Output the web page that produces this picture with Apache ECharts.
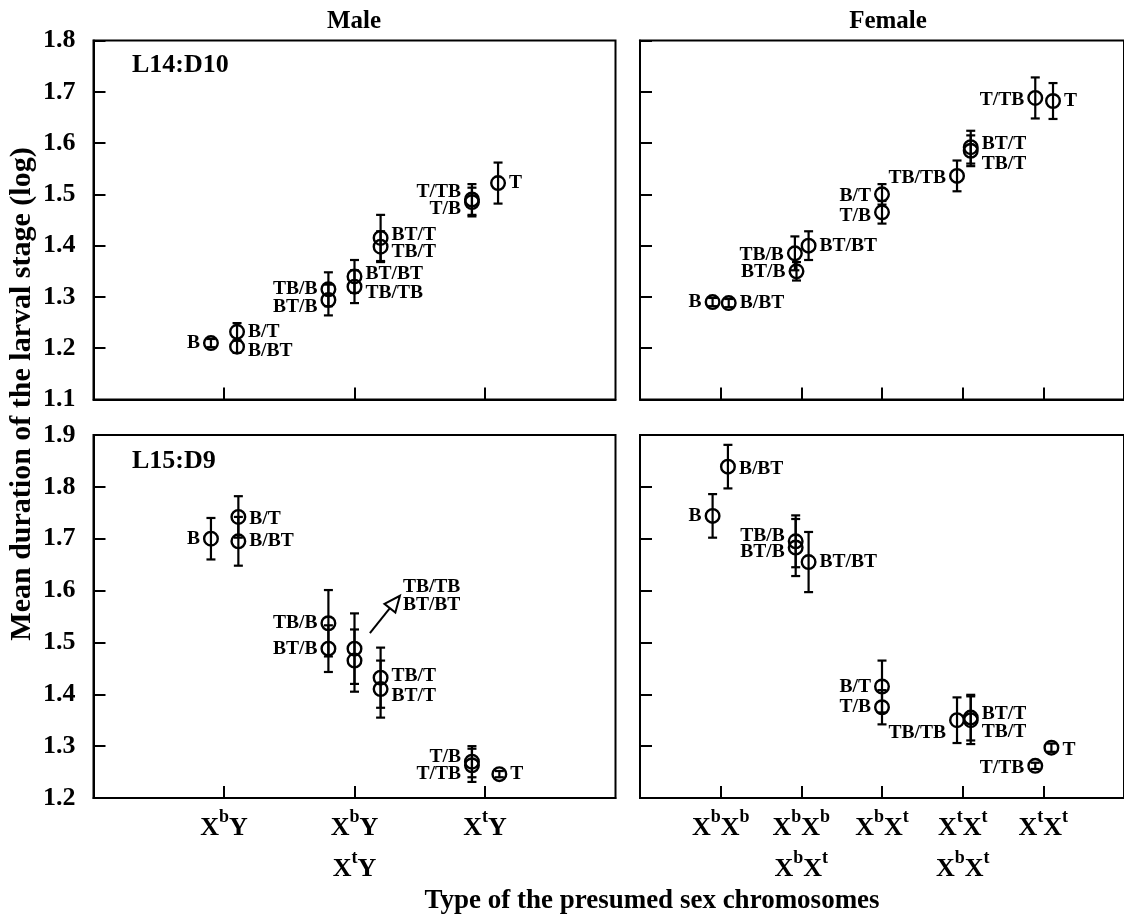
<!DOCTYPE html>
<html>
<head>
<meta charset="utf-8">
<script src="https://cdn.jsdelivr.net/npm/echarts@6/dist/echarts.min.js"></script>
<style>
  html, body { margin: 0; padding: 0; background: #fff; }
  #chart { width: 1124px; height: 918px; }
</style>
</head>
<body>
<div id="chart"></div>
<script>
// ---- Tick labels (presumed sex chromosome types; ^ marks a superscript) ----
const maleTypes = ['X^bY', 'X^bY\nX^tY', 'X^tY'];
const femaleTypes = ['X^bX^b', 'X^bX^b\nX^bX^t', 'X^bX^t', 'X^tX^t\nX^bX^t', 'X^tX^t'];

// ---- L14:D10, males ----
const l14MaleNames = ['B', 'B/T', 'B/BT', 'TB/B', 'BT/B', 'BT/BT', 'TB/TB', 'BT/T', 'TB/T', 'T/TB', 'T/B', 'T'];
const l14MaleType  = [1, 1, 1, 2, 2, 2, 2, 2, 2, 3, 3, 3];
const l14MaleMean  = [1.210, 1.232, 1.203, 1.315, 1.294, 1.340, 1.320, 1.415, 1.398, 1.490, 1.485, 1.522];
const l14MaleErr   = [0.008, 0.017, 0.012, 0.033, 0.030, 0.032, 0.032, 0.045, 0.030, 0.030, 0.028, 0.040];

// ---- L14:D10, females ----
const l14FemaleNames = ['B', 'B/BT', 'TB/B', 'BT/B', 'BT/BT', 'B/T', 'T/B', 'TB/TB', 'BT/T', 'TB/T', 'T/TB', 'T'];
const l14FemaleType  = [1, 1, 2, 2, 2, 3, 3, 4, 4, 4, 5, 5];
const l14FemaleMean  = [1.290, 1.288, 1.385, 1.350, 1.400, 1.500, 1.465, 1.536, 1.592, 1.585, 1.688, 1.682];
const l14FemaleErr   = [0.008, 0.008, 0.033, 0.018, 0.028, 0.020, 0.022, 0.030, 0.032, 0.030, 0.040, 0.035];

// ---- L15:D9, males ----
const l15MaleNames = ['B', 'B/T', 'B/BT', 'TB/B', 'BT/B', 'TB/TB', 'BT/BT', 'TB/T', 'BT/T', 'T/B', 'T/TB', 'T'];
const l15MaleType  = [1, 1, 1, 2, 2, 2, 2, 2, 2, 3, 3, 3];
const l15MaleMean  = [1.700, 1.742, 1.695, 1.537, 1.488, 1.488, 1.465, 1.432, 1.410, 1.270, 1.263, 1.246];
const l15MaleErr   = [0.040, 0.040, 0.047, 0.064, 0.045, 0.068, 0.060, 0.058, 0.055, 0.030, 0.032, 0.006];

// ---- L15:D9, females ----
const l15FemaleNames = ['B', 'B/BT', 'TB/B', 'BT/B', 'BT/BT', 'B/T', 'T/B', 'TB/TB', 'BT/T', 'TB/T', 'T/TB', 'T'];
const l15FemaleType  = [1, 1, 2, 2, 2, 3, 3, 4, 4, 4, 5, 5];
const l15FemaleMean  = [1.744, 1.839, 1.695, 1.683, 1.655, 1.415, 1.375, 1.350, 1.355, 1.350, 1.262, 1.297];
const l15FemaleErr   = [0.042, 0.042, 0.050, 0.055, 0.058, 0.050, 0.033, 0.044, 0.044, 0.046, 0.006, 0.008];

// ---- Layout: horizontal dodge inside a type column, label side (L/R/N) and label nudge in px ----
const l14MaleDodge = [-0.1, 0.1, 0.1, -0.2, -0.2, 0, 0, 0.2, 0.2, -0.1, -0.1, 0.1];
const l14MaleSide  = ['L', 'R', 'R', 'L', 'L', 'R', 'R', 'R', 'R', 'L', 'L', 'R'];
const l14MaleShift = [0, 0, 4, 0, 7, -2, 6, -3, 5, -8, 7, 0];

const l14FemaleDodge = [-0.1, 0.1, -0.08, -0.06, 0.09, 0, 0, -0.07, 0.1, 0.1, -0.1, 0.12];
const l14FemaleSide  = ['L', 'R', 'L', 'L', 'R', 'L', 'L', 'L', 'R', 'R', 'L', 'R'];
const l14FemaleShift = [0, 0, 2, 1, 0, 2, 4, 2, -3, 13, 2, 0];

const l15MaleDodge = [-0.1, 0.11, 0.11, -0.2, -0.2, 0, 0, 0.2, 0.2, -0.1, -0.1, 0.11];
const l15MaleSide  = ['L', 'R', 'R', 'L', 'L', 'N', 'N', 'R', 'R', 'L', 'L', 'R'];
const l15MaleShift = [0, 2, 0, 0, 0, 0, 0, -2, 7, -5, 9, 0];

const l15FemaleDodge = [-0.1, 0.09, -0.07, -0.07, 0.09, 0, 0, -0.07, 0.1, 0.1, -0.1, 0.1];
const l15FemaleSide  = ['L', 'R', 'L', 'L', 'R', 'L', 'L', 'L', 'R', 'R', 'L', 'R'];
const l15FemaleShift = [0, 2, -5, 4, 0, 0, 0, 13, -4, 12, 2, 2];

// Pointer from the overlapping TB/TB and BT/BT pair (L15:D9 males) to their labels: [x0, y0, x1, y1]
const l15PairArrow = [2.118, 1.518, 2.348, 1.590];

const FONT = '"Liberation Serif", "Times New Roman", serif';
const INK = '#000';

function toRich(s) {
  return s.replace(/\^(\w)/g, '{s|$1}');
}

function buildData(types, dodge, means, errs) {
  return means.map((m, i) => [types[i] + dodge[i], m, errs[i]]);
}

function pointRenderer(names, sides, shifts) {
  return function (params, api) {
    const i = params.dataIndex;
    const x = api.value(0), m = api.value(1), e = api.value(2);
    const c = api.coord([x, m]);
    const hi = api.coord([x, m + e]);
    const lo = api.coord([x, m - e]);
    const cap = 4.5;
    const ls = { stroke: INK, lineWidth: 2.2 };
    const children = [
      { type: 'line', shape: { x1: c[0], y1: hi[1], x2: c[0], y2: lo[1] }, style: ls },
      { type: 'line', shape: { x1: c[0] - cap, y1: hi[1], x2: c[0] + cap, y2: hi[1] }, style: ls },
      { type: 'line', shape: { x1: c[0] - cap, y1: lo[1], x2: c[0] + cap, y2: lo[1] }, style: ls },
      { type: 'circle', shape: { cx: c[0], cy: c[1], r: 6.8 }, style: { fill: 'none', stroke: INK, lineWidth: 2.4 } }
    ];
    if (sides[i] !== 'N') {
      const right = sides[i] === 'R';
      children.push({
        type: 'text',
        x: c[0] + (right ? 11 : -11),
        y: c[1] + shifts[i],
        style: {
          text: names[i], align: right ? 'left' : 'right', verticalAlign: 'middle',
          fill: INK, fontSize: 19.5, fontFamily: FONT, fontWeight: 'bold'
        }
      });
    }
    return { type: 'group', children };
  };
}

function arrowRenderer(labels) {
  return function (params, api) {
    const p0 = api.coord([api.value(0), api.value(1)]);
    const p1 = api.coord([api.value(2), api.value(3)]);
    const dx = p1[0] - p0[0], dy = p1[1] - p0[1];
    const len = Math.sqrt(dx * dx + dy * dy);
    const ux = dx / len, uy = dy / len;
    const hl = 16, hw = 7;
    const bx = p1[0] - ux * hl, by = p1[1] - uy * hl;
    const ls = { stroke: INK, lineWidth: 2 };
    const txt = (t, oy) => ({
      type: 'text', x: p1[0] + 3, y: p1[1] + oy,
      style: { text: t, align: 'left', verticalAlign: 'middle', fill: INK, fontSize: 19.5, fontFamily: FONT, fontWeight: 'bold' }
    });
    return {
      type: 'group',
      children: [
        { type: 'line', shape: { x1: p0[0], y1: p0[1], x2: bx, y2: by }, style: ls },
        { type: 'polygon', shape: { points: [p1, [bx - uy * hw, by + ux * hw], [bx + uy * hw, by - ux * hw]] },
          style: { fill: '#fff', stroke: INK, lineWidth: 2 } },
        txt(labels[0], -9),
        txt(labels[1], 9)
      ]
    };
  };
}

const grids = [
  { left: 93.5, top: 40.5, width: 522, height: 359 },
  { left: 640, top: 40.5, width: 489, height: 359 },
  { left: 93.5, top: 435, width: 522, height: 363 },
  { left: 640, top: 435, width: 489, height: 363 }
].map(g => Object.assign(g, { show: true, borderColor: INK, borderWidth: 2, backgroundColor: 'transparent' }));

function xAxisFor(idx, female, withLabels) {
  const labels = female ? femaleTypes : maleTypes;
  const ticks = labels.map((_, i) => i + 1);
  return {
    gridIndex: idx, type: 'value', min: 0, max: female ? 6 : 4,
    axisLine: { show: true, onZero: false, lineStyle: { color: INK, width: 2 } },
    axisTick: { show: true, inside: true, length: 12, customValues: ticks, lineStyle: { color: INK, width: 2 } },
    axisLabel: {
      show: withLabels, customValues: ticks, margin: 10,
      color: INK, fontFamily: FONT, fontWeight: 'bold', fontSize: 26, lineHeight: 41,
      formatter: v => toRich(labels[Math.round(v) - 1] || ''),
      rich: { s: { fontSize: 18, fontFamily: FONT, fontWeight: 'bold', color: INK, verticalAlign: 'top', lineHeight: 26 } }
    },
    splitLine: { show: false }
  };
}

function yAxisFor(idx, lo, hi, withLabels) {
  return {
    gridIndex: idx, type: 'value', min: lo, max: hi, interval: 0.1,
    axisLine: { show: true, onZero: false, lineStyle: { color: INK, width: 2 } },
    axisTick: { show: true, inside: true, length: 12, lineStyle: { color: INK, width: 2 } },
    axisLabel: {
      show: withLabels, margin: 18, color: INK, fontFamily: FONT, fontWeight: 'bold', fontSize: 26,
      formatter: v => v.toFixed(1)
    },
    splitLine: { show: false }
  };
}

function panelSeries(idx, names, types, dodge, means, errs, sides, shifts) {
  return {
    type: 'custom', xAxisIndex: idx, yAxisIndex: idx,
    data: buildData(types, dodge, means, errs),
    encode: { x: 0, y: 1 },
    renderItem: pointRenderer(names, sides, shifts),
    silent: true
  };
}

const textStyle = (size) => ({ fill: INK, fontFamily: FONT, fontWeight: 'bold', fontSize: size });

const option = {
  animation: false,
  backgroundColor: '#fff',
  grid: grids,
  xAxis: [xAxisFor(0, false, false), xAxisFor(1, true, false), xAxisFor(2, false, true), xAxisFor(3, true, true)],
  yAxis: [yAxisFor(0, 1.1, 1.8, true), yAxisFor(1, 1.1, 1.8, false), yAxisFor(2, 1.2, 1.9, true), yAxisFor(3, 1.2, 1.9, false)],
  series: [
    panelSeries(0, l14MaleNames, l14MaleType, l14MaleDodge, l14MaleMean, l14MaleErr, l14MaleSide, l14MaleShift),
    panelSeries(1, l14FemaleNames, l14FemaleType, l14FemaleDodge, l14FemaleMean, l14FemaleErr, l14FemaleSide, l14FemaleShift),
    panelSeries(2, l15MaleNames, l15MaleType, l15MaleDodge, l15MaleMean, l15MaleErr, l15MaleSide, l15MaleShift),
    panelSeries(3, l15FemaleNames, l15FemaleType, l15FemaleDodge, l15FemaleMean, l15FemaleErr, l15FemaleSide, l15FemaleShift),
    {
      type: 'custom', xAxisIndex: 2, yAxisIndex: 2, silent: true,
      data: [l15PairArrow],
      encode: { x: [0, 2], y: [1, 3] },
      renderItem: arrowRenderer([l15MaleNames[5], l15MaleNames[6]])
    }
  ],
  graphic: [
    { type: 'text', x: 354, y: 22, style: Object.assign({ text: 'Male', align: 'center', verticalAlign: 'middle' }, textStyle(25)) },
    { type: 'text', x: 888, y: 22, style: Object.assign({ text: 'Female', align: 'center', verticalAlign: 'middle' }, textStyle(25)) },
    { type: 'text', x: 132, y: 65, style: Object.assign({ text: 'L14:D10', align: 'left', verticalAlign: 'middle' }, textStyle(26)) },
    { type: 'text', x: 132, y: 461, style: Object.assign({ text: 'L15:D9', align: 'left', verticalAlign: 'middle' }, textStyle(26)) },
    { type: 'text', x: 22, y: 394, rotation: Math.PI / 2,
      style: Object.assign({ text: 'Mean duration of the larval stage (log)', align: 'center', verticalAlign: 'middle' }, textStyle(30)) },
    { type: 'text', x: 652, y: 901,
      style: Object.assign({ text: 'Type of the presumed sex chromosomes', align: 'center', verticalAlign: 'middle' }, textStyle(27)) }
  ]
};

const chart = echarts.init(document.getElementById('chart'), null, { renderer: 'canvas' });
chart.setOption(option);
</script>
</body>
</html>
